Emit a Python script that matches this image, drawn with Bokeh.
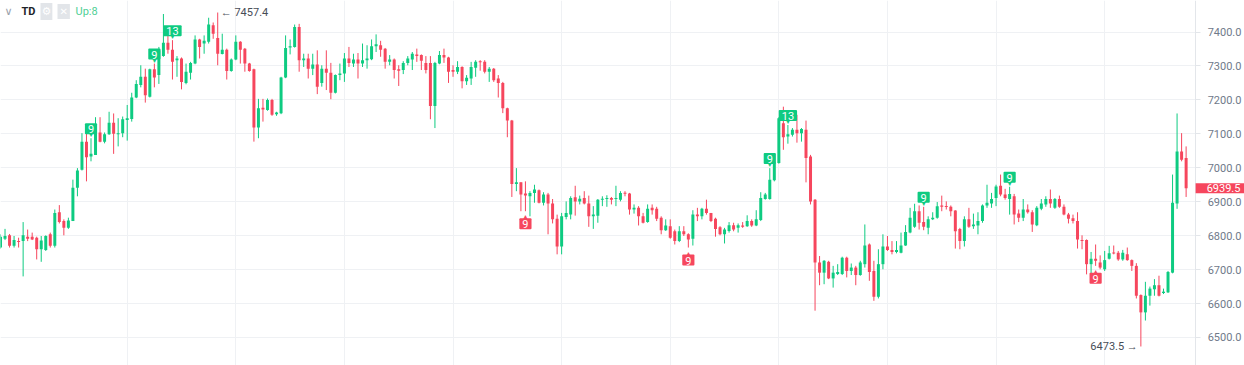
from bokeh.plotting import figure
from bokeh.models import ColumnDataSource, Label, FixedTicker, NumeralTickFormatter, Range1d
from bokeh.core.properties import value
from bokeh.embed import file_html
from bokeh.resources import INLINE

# ---- hourly OHLC values ----
opens = [6765, 6791, 6801, 6770, 6784, 6784, 6797, 6797, 6794, 6760, 6758, 6804, 6770, 6869, 6843, 6823, 6843, 6941, 6994, 7077,
         7033, 7038, 7104, 7077, 7099, 7133, 7099, 7102, 7141, 7144, 7207, 7244, 7268, 7209, 7290, 7273, 7329, 7368, 7348, 7317,
         7322, 7250, 7280, 7307, 7378, 7366, 7371, 7420, 7382, 7335, 7348, 7285, 7319, 7371, 7351, 7307, 7290, 7119, 7177, 7170,
         7200, 7158, 7161, 7266, 7354, 7356, 7415, 7317, 7322, 7292, 7304, 7250, 7292, 7280, 7221, 7273, 7278, 7322, 7307, 7319,
         7307, 7317, 7320, 7358, 7361, 7351, 7312, 7319, 7290, 7288, 7309, 7319, 7334, 7332, 7309, 7309, 7182, 7307, 7332, 7325,
         7288, 7283, 7297, 7255, 7263, 7295, 7314, 7312, 7283, 7292, 7263, 7250, 7175, 7139, 6952, 6957, 6924, 6916, 6926, 6934,
         6897, 6921, 6895, 6850, 6768, 6855, 6862, 6913, 6901, 6911, 6895, 6857, 6859, 6906, 6908, 6911, 6908, 6906, 6926, 6924,
         6877, 6882, 6857, 6840, 6882, 6879, 6853, 6816, 6828, 6813, 6784, 6813, 6804, 6791, 6862, 6857, 6879, 6867, 6850, 6825,
         6804, 6814, 6831, 6823, 6830, 6828, 6843, 6830, 6846, 6908, 6908, 6963, 7014, 7131, 7092, 7097, 7112, 7102, 7112, 7033,
         6906, 6721, 6691, 6723, 6674, 6687, 6687, 6735, 6696, 6706, 6684, 6716, 6774, 6696, 6620, 6716, 6768, 6758, 6752, 6750,
         6771, 6809, 6826, 6872, 6840, 6823, 6848, 6853, 6889, 6887, 6885, 6874, 6820, 6784, 6848, 6828, 6830, 6843, 6889, 6895,
         6911, 6947, 6921, 6908, 6916, 6865, 6853, 6877, 6869, 6831, 6879, 6892, 6908, 6882, 6908, 6885, 6862, 6851, 6843, 6787,
         6787, 6716, 6732, 6721, 6701, 6732, 6750, 6750, 6730, 6745, 6728, 6711, 6625, 6574, 6623, 6642, 6654, 6631, 6633, 6691,
         6895, 7048, 7029]
highs = [6804, 6820, 6805, 6799, 6794, 6840, 6818, 6809, 6797, 6799, 6801, 6809, 6877, 6890, 6848, 6853, 6965, 6999, 7102, 7102,
         7087, 7149, 7149, 7104, 7165, 7160, 7146, 7151, 7185, 7221, 7258, 7302, 7292, 7292, 7307, 7356, 7453, 7395, 7376, 7329,
         7325, 7307, 7312, 7390, 7380, 7390, 7442, 7428, 7457.4, 7395, 7351, 7322, 7390, 7373, 7353, 7309, 7292, 7203, 7203, 7204,
         7203, 7165, 7268, 7390, 7378, 7422, 7424, 7336, 7336, 7336, 7346, 7302, 7346, 7309, 7275, 7307, 7338, 7356, 7336, 7338,
         7366, 7361, 7378, 7393, 7374, 7353, 7332, 7322, 7302, 7314, 7329, 7341, 7351, 7334, 7329, 7329, 7312, 7344, 7351, 7327,
         7302, 7314, 7299, 7273, 7312, 7317, 7317, 7317, 7297, 7294, 7273, 7253, 7177, 7141, 6999, 6957, 6960, 6931, 6950, 6936,
         6928, 6926, 6908, 6862, 6867, 6901, 6916, 6947, 6918, 6931, 6918, 6887, 6908, 6916, 6919, 6914, 6947, 6931, 6931, 6926,
         6892, 6887, 6867, 6892, 6892, 6885, 6857, 6848, 6848, 6818, 6828, 6828, 6807, 6875, 6882, 6882, 6906, 6867, 6853, 6828,
         6823, 6840, 6838, 6836, 6840, 6860, 6848, 6875, 6928, 6926, 6999, 7018, 7149, 7180, 7126, 7117, 7156, 7117, 7139, 7038,
         6908, 6740, 6728, 6726, 6711, 6716, 6738, 6738, 6718, 6711, 6726, 6833, 6777, 6726, 6760, 6804, 6799, 6784, 6784, 6809,
         6831, 6882, 6894, 6889, 6885, 6857, 6869, 6899, 6918, 6901, 6889, 6875, 6823, 6857, 6882, 6865, 6869, 6892, 6950, 6926,
         6950, 6980, 6938, 6944, 6923, 6877, 6908, 6892, 6875, 6887, 6908, 6916, 6936, 6911, 6918, 6892, 6867, 6862, 6869, 6801,
         6789, 6752, 6774, 6742, 6755, 6770, 6771, 6755, 6758, 6765, 6730, 6719, 6627, 6664, 6650, 6672, 6682, 6644, 6696, 6980,
         7160, 7102, 7063]
lows = [6762, 6787, 6765, 6765, 6765, 6680, 6784, 6787, 6730, 6723, 6755, 6765, 6765, 6836, 6801, 6820, 6843, 6916, 6992, 6960,
        7019, 7038, 7075, 7072, 7097, 7041, 7063, 7090, 7080, 7136, 7205, 7237, 7192, 7207, 7237, 7247, 7327, 7336, 7260, 7268,
        7231, 7246, 7260, 7305, 7322, 7336, 7366, 7380, 7302, 7334, 7260, 7283, 7317, 7307, 7283, 7283, 7077, 7087, 7136, 7168,
        7153, 7153, 7158, 7264, 7334, 7354, 7283, 7297, 7263, 7273, 7217, 7239, 7229, 7202, 7219, 7258, 7253, 7297, 7297, 7263,
        7297, 7292, 7317, 7341, 7327, 7292, 7302, 7263, 7241, 7276, 7302, 7288, 7312, 7288, 7278, 7143, 7117, 7305, 7309, 7250,
        7268, 7276, 7234, 7244, 7244, 7268, 7286, 7278, 7253, 7253, 7207, 7161, 7090, 6914, 6931, 6872, 6872, 6857, 6897, 6895,
        6889, 6804, 6836, 6745, 6745, 6848, 6848, 6859, 6892, 6892, 6826, 6820, 6838, 6887, 6885, 6892, 6887, 6901, 6916, 6862,
        6865, 6830, 6836, 6838, 6862, 6843, 6804, 6814, 6791, 6774, 6781, 6799, 6765, 6771, 6843, 6848, 6862, 6840, 6797, 6801,
        6777, 6809, 6813, 6809, 6823, 6826, 6826, 6828, 6843, 6906, 6906, 6960, 7012, 7053, 7071, 7092, 7074, 7077, 6957, 6892,
        6579, 6654, 6657, 6672, 6647, 6684, 6684, 6677, 6684, 6654, 6682, 6706, 6667, 6608, 6615, 6701, 6755, 6745, 6748, 6748,
        6770, 6807, 6823, 6818, 6816, 6804, 6846, 6850, 6872, 6877, 6857, 6762, 6760, 6768, 6823, 6820, 6804, 6838, 6882, 6882,
        6887, 6916, 6906, 6862, 6833, 6840, 6843, 6865, 6811, 6828, 6875, 6885, 6882, 6879, 6882, 6860, 6836, 6836, 6762, 6760,
        6686, 6686, 6711, 6701, 6696, 6730, 6745, 6726, 6726, 6726, 6696, 6615, 6473.5, 6550, 6594, 6623, 6621, 6628, 6631, 6689,
        6879, 7019, 6914]
closes = [6797, 6799, 6770, 6787, 6781, 6801, 6791, 6789, 6760, 6786, 6799, 6770, 6867, 6840, 6823, 6845, 6941, 6992, 7077, 7031,
          7041, 7102, 7077, 7099, 7133, 7100, 7102, 7143, 7146, 7207, 7247, 7268, 7214, 7290, 7266, 7346, 7368, 7348, 7312, 7322,
          7253, 7283, 7309, 7378, 7356, 7374, 7422, 7395, 7336, 7348, 7285, 7319, 7371, 7348, 7307, 7285, 7119, 7175, 7172, 7200,
          7156, 7163, 7266, 7353, 7358, 7415, 7317, 7322, 7292, 7304, 7239, 7292, 7280, 7221, 7273, 7278, 7322, 7309, 7319, 7307,
          7317, 7322, 7358, 7364, 7348, 7312, 7319, 7288, 7286, 7309, 7322, 7336, 7329, 7315, 7288, 7182, 7309, 7332, 7325, 7283,
          7283, 7297, 7255, 7265, 7297, 7312, 7311, 7283, 7292, 7258, 7250, 7175, 7139, 6952, 6957, 6921, 6918, 6926, 6936, 6897,
          6921, 6895, 6848, 6768, 6857, 6867, 6911, 6901, 6909, 6895, 6857, 6862, 6906, 6909, 6911, 6906, 6911, 6926, 6924, 6877,
          6882, 6857, 6838, 6879, 6875, 6850, 6816, 6830, 6794, 6784, 6813, 6804, 6789, 6862, 6857, 6879, 6867, 6843, 6820, 6804,
          6818, 6831, 6818, 6831, 6826, 6843, 6830, 6848, 6911, 6921, 6965, 7016, 7146, 7090, 7099, 7112, 7102, 7114, 7029, 6901,
          6721, 6691, 6726, 6674, 6691, 6693, 6735, 6696, 6706, 6684, 6721, 6771, 6693, 6620, 6716, 6768, 6758, 6752, 6758, 6771,
          6811, 6853, 6872, 6838, 6826, 6848, 6853, 6887, 6885, 6885, 6872, 6813, 6784, 6848, 6826, 6833, 6843, 6889, 6897, 6908,
          6945, 6921, 6911, 6923, 6862, 6853, 6877, 6869, 6833, 6882, 6895, 6908, 6895, 6908, 6885, 6862, 6850, 6843, 6789, 6784,
          6716, 6732, 6726, 6706, 6728, 6748, 6748, 6730, 6750, 6728, 6711, 6623, 6574, 6623, 6644, 6654, 6623, 6635, 6693, 6897,
          7048, 7024, 6939.5]

# TD sequential markers (candle index, count)
td_up_idx = [20, 34, 38, 170, 174, 204, 223]
td_up_text = ["9", "9", "13", "9", "13", "9", "9"]
td_dn_idx = [116, 152, 242]
td_dn_text = ["9", "9", "9"]

price_ticks = [6500, 6600, 6700, 6800, 6900, 7000, 7100, 7200, 7300, 7400]
candles_per_day = 24
first_day_idx = 28
header_count = "Up:8"

GREEN = "#0ecb81"
RED = "#f6465d"
GRID = "#eff1f4"
AXIS_C = "#e3e6ea"
ICON_BG = "#e2e5e9"

n = len(opens)
xs = list(range(n))
colors = [GREEN if c >= o else RED for o, c in zip(opens, closes)]
tops, bots = [], []
for o, c in zip(opens, closes):
    t, b = max(o, c), min(o, c)
    if t - b < 3:
        m = (t + b) / 2.0
        t, b = m + 1.5, m - 1.5
    tops.append(t)
    bots.append(b)

src = ColumnDataSource(dict(x=xs, high=highs, low=lows, top=tops, bottom=bots, color=colors))

X0, X1 = 0.0, 274.9       # visible candle-index window
AXIS_X = 264.1            # price-scale position (candle-index units)
Y0, Y1 = 6417.5, 7492.8
W, H = 1244, 365

p = figure(frame_width=W, frame_height=H,
           x_range=Range1d(X0, X1), y_range=Range1d(Y0, Y1),
           y_axis_location="right", toolbar_location=None, output_backend="svg",
           min_border_left=0, min_border_top=0, min_border_bottom=0, min_border_right=0)
p.xaxis.visible = False
p.outline_line_color = None
p.background_fill_color = "white"
p.border_fill_color = "white"

p.xgrid.ticker = FixedTicker(ticks=list(range(first_day_idx, n, candles_per_day)))
p.ygrid.ticker = FixedTicker(ticks=price_ticks)
p.xgrid.grid_line_color = GRID
p.ygrid.grid_line_color = GRID

# white panel behind the price scale (hides grid lines there)
p.quad(left=[AXIS_X], right=[X1 + 5], bottom=[Y0 - 50], top=[Y1 + 50], fill_color="white", line_color=None)

ax = p.yaxis[0]
ax.fixed_location = AXIS_X
ax.ticker = FixedTicker(ticks=price_ticks)
ax.formatter = NumeralTickFormatter(format="0.0")
ax.axis_line_color = AXIS_C
ax.major_tick_line_color = AXIS_C
ax.major_tick_out = 5
ax.major_tick_in = 0
ax.minor_tick_line_color = None
ax.major_label_text_color = "#707a8a"
ax.major_label_text_font = "Roboto"
ax.major_label_text_font_size = "11px"
ax.major_label_standoff = 7

p.segment(x0="x", y0="low", x1="x", y1="high", line_color="color", line_width=1, source=src)
p.vbar(x="x", width=0.66, top="top", bottom="bottom", fill_color="color", line_color=None, source=src)

# TD markers
up_src = ColumnDataSource(dict(x=td_up_idx, y=[highs[i] for i in td_up_idx], t=td_up_text))
dn_src = ColumnDataSource(dict(x=td_dn_idx, y=[lows[i] for i in td_dn_idx], t=td_dn_text))
p.text(x="x", y="y", text=value("\u25BC"), source=up_src, text_color=GREEN, text_font_size="7px",
       text_align="center", text_baseline="bottom", y_offset=0)
p.text(x="x", y="y", text="t", source=up_src, text_color="white", text_font=value("Roboto"),
       text_font_size="11px", text_align="center", text_baseline="bottom", y_offset=-4,
       background_fill_color=GREEN, padding=dict(left=3, right=3, top=2, bottom=1), border_radius=1)
p.text(x="x", y="y", text=value("\u25B2"), source=dn_src, text_color=RED, text_font_size="7px",
       text_align="center", text_baseline="top", y_offset=2)
p.text(x="x", y="y", text="t", source=dn_src, text_color="white", text_font=value("Roboto"),
       text_font_size="11px", text_align="center", text_baseline="top", y_offset=7,
       background_fill_color=RED, padding=dict(left=3, right=3, top=2, bottom=1), border_radius=1)

# extreme annotations
hi_i = max(range(n), key=lambda i: highs[i])
lo_i = min(range(n), key=lambda i: lows[i])
p.add_layout(Label(x=hi_i, y=highs[hi_i], text="\u2190 %.1f" % highs[hi_i], x_offset=3,
                   text_baseline="middle", text_font="Roboto", text_font_size="11px", text_color="#474d57"))
p.add_layout(Label(x=lo_i, y=lows[lo_i], text="%.1f \u2192" % lows[lo_i], x_offset=-3, text_align="right",
                   text_baseline="middle", text_font="Roboto", text_font_size="11px", text_color="#474d57"))

# last price tag on the price scale
p.add_layout(Label(x=AXIS_X, y=closes[-1], text="%.1f" % closes[-1], text_align="left", text_baseline="middle",
                   text_font="Roboto", text_font_size="11px", text_color="white",
                   background_fill_color=RED, padding=dict(left=11, right=8, top=1, bottom=1)))

# header
HY = H - 11
p.add_layout(Label(x=4, y=HY, x_units="screen", y_units="screen", text="\u2228", text_baseline="middle",
                   text_font="DejaVu Sans", text_font_size="11px", text_color="#9aa1ab"))
p.add_layout(Label(x=21, y=HY, x_units="screen", y_units="screen", text="TD", text_baseline="middle",
                   text_font="Roboto", text_font_size="11px", text_font_style="bold", text_color="#1e2329"))
p.add_layout(Label(x=40, y=HY, x_units="screen", y_units="screen", text="\u2699", text_baseline="middle",
                   text_font="DejaVu Sans", text_font_size="11px", text_color="white",
                   background_fill_color=ICON_BG, padding=dict(left=1, right=1, top=2, bottom=2)))
p.add_layout(Label(x=57, y=HY, x_units="screen", y_units="screen", text="\u2715", text_baseline="middle",
                   text_font="DejaVu Sans", text_font_size="10px", text_color="white",
                   background_fill_color=ICON_BG, padding=dict(left=2, right=2, top=2, bottom=2)))
p.add_layout(Label(x=75, y=HY, x_units="screen", y_units="screen", text=header_count, text_baseline="middle",
                   text_font="Roboto", text_font_size="11px", text_color="#4fcf95"))

open("out.html", "w").write(file_html(p, INLINE))
